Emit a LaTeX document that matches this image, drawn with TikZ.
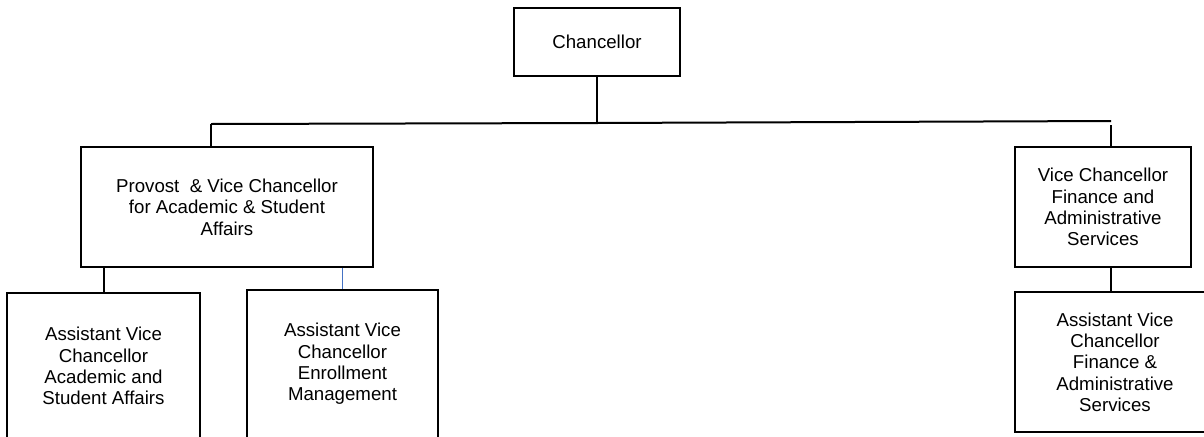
\documentclass[tikz,border=0pt]{standalone}
\usepackage{fontspec}
\setmainfont{Liberation Sans}
\tikzset{
  orgbox/.style={draw, line width=1.5pt, align=center, inner sep=0pt, font=\fontsize{14}{16}\selectfont},
  link/.style={line width=1.5pt},
}
\begin{document}
\begin{tikzpicture}[x=0.75pt, y=-0.75pt]
\clip (0,0) rectangle (1204,436);
\fill[white] (0,0) rectangle (1204,436);

\node[orgbox, minimum width=124.5pt, minimum height=51pt] (chancellor) at (597,42) {Chancellor}; % top
\node[orgbox, minimum width=219pt, minimum height=90pt] (provost) at (227,207) {Provost\ \ \& Vice Chancellor\\for Academic \& Student\\Affairs};
\node[orgbox, minimum width=132pt, minimum height=90pt] (vcfinance) at (1103,207) {Vice Chancellor\\Finance and\\Administrative\\Services};
\node[orgbox, minimum width=144.75pt, minimum height=109.5pt] (avcacad) at (103.5,366) {Assistant Vice\\Chancellor\\Academic and\\Student Affairs};
\node[orgbox, minimum width=143.25pt, minimum height=111pt] (avcenrol) at (342.5,364) {Assistant Vice\\Chancellor\\Enrollment\\Management};
\node[orgbox, minimum width=150pt, minimum height=105pt] (avcfin) at (1115,362) {Assistant Vice\\Chancellor\\Finance \&\\Administrative\\Services};

\coordinate (busL) at (211,124); % bus left end
\coordinate (busM) at (597,123); % under chancellor
\coordinate (busR) at (1111,121); % bus right end

\draw[link] (chancellor.south) -- (busM) ;
\draw[link] (busL) -- (busM) -- (busR) ;
\draw[link] (busL) -- (busL |- provost.north) ;
\draw[link] (busR |- 0,125) -- (busR |- vcfinance.north) ;
\draw[link] (avcacad.north |- provost.south) -- (avcacad.north) ;
\draw[line width=0.9pt, color={rgb,255:red,68;green,114;blue,196}] (avcenrol.north |- provost.south) -- (avcenrol.north) ;
\draw[line width=2.2pt] (busR |- vcfinance.south) -- (busR |- avcfin.north) ;
\end{tikzpicture}
\end{document}
